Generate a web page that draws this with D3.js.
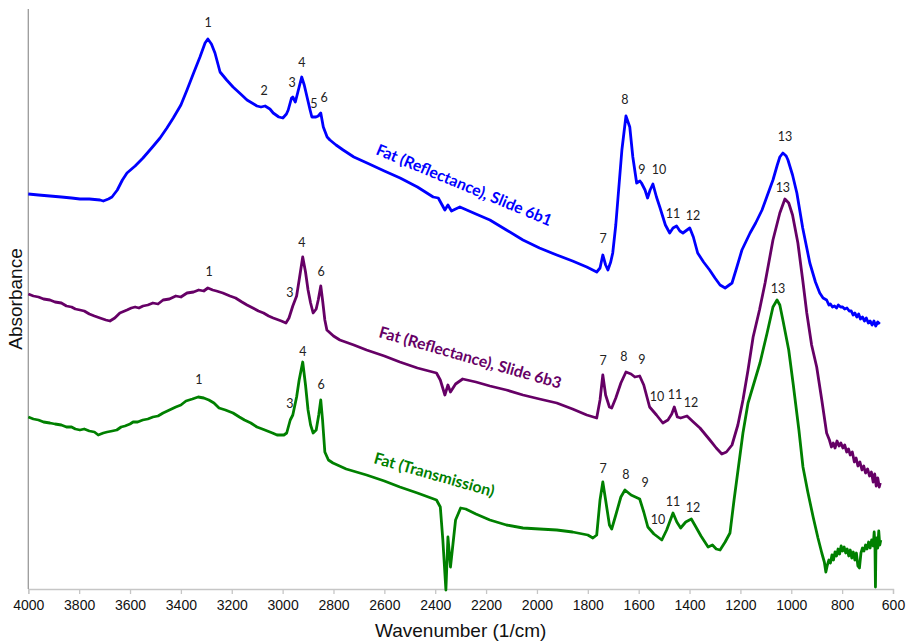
<!DOCTYPE html>
<html>
<head>
<meta charset="utf-8">
<script src="https://cdn.jsdelivr.net/npm/d3@7"></script>
<style>
  body { margin: 0; background: #fff; }
  svg { display: block; }
</style>
</head>
<body>
<div id="chart"></div>
<script>
// Spectra: [wavenumber (1/cm), absorbance (a.u., stacked offsets)]
const slide6b1 = [
  [4000,395],[3960,394],[3915,393],[3870,392],[3830,391],[3797,390],[3760,390],[3718,389],[3705,388],[3685,390],
  [3671,392],[3650,399],[3630,409],[3612,416],[3580,423],[3549,431],[3515,441],[3482,451],[3455,461],[3430,471],
  [3400,484],[3376,499],[3350,516],[3325,532],[3305,546],[3294,550],[3280,545],[3266,536],[3246,517],[3220,509],
  [3195,502],[3165,495],[3140,489],[3101,483],[3085,482],[3069,483],[3050,480],[3037,476],[3015,472],[2999,471],
  [2985,475],[2978,479],[2965,491],[2960,492],[2950,487],[2940,497],[2925,512],[2915,504],[2904,492],[2892,479],
  [2885,472],[2869,472],[2860,473],[2850,476],[2840,462],[2825,452],[2814,449],[2790,444],[2762,439],[2720,432],
  [2668,426],[2600,418],[2538,411],[2470,402],[2408,392],[2388,391],[2375,385],[2362,379],[2350,384],[2336,378],
  [2320,380],[2303,382],[2285,380],[2240,375],[2185,369],[2120,359],[2055,349],[1990,341],[1922,334],[1860,328],
  [1804,322],[1765,317],[1752,321],[1741,334],[1730,324],[1721,319],[1710,327],[1702,336],[1690,364],[1682,389],
  [1666,439],[1650,473],[1635,462],[1623,432],[1608,406],[1595,408],[1589,406],[1575,399],[1565,391],[1555,399],
  [1544,405],[1530,392],[1517,382],[1495,364],[1478,356],[1465,361],[1451,363],[1438,358],[1426,356],[1410,359],
  [1399,361],[1385,352],[1368,336],[1345,327],[1321,319],[1300,311],[1280,304],[1260,301],[1233,306],[1215,321],
  [1194,339],[1162,356],[1140,366],[1115,379],[1095,393],[1072,409],[1055,424],[1045,432],[1033,436],[1020,433],
  [1013,429],[995,414],[978,396],[955,361],[927,326],[905,307],[888,296],[875,291],[861,289],[852,284],
  [846,285],[838,282],[830,283],[822,281],[815,284],[806,282],[798,282],[790,280],[781,281],[772,278],
  [764,278],[757,274],[750,276],[742,272],[735,275],[728,270],[720,272],[712,268],[705,271],[697,266],
  [690,268],[682,264],[675,268],[668,263],[660,267],[652,265]
];

const slide6b3 = [
  [4000,295],[3980,293],[3960,292],[3940,290],[3915,289],[3895,287],[3870,286],[3850,283],[3830,282],[3815,280],
  [3797,279],[3780,278],[3760,275],[3740,273],[3718,271],[3695,269],[3679,268],[3660,271],[3640,276],[3612,279],
  [3595,281],[3580,282],[3565,281],[3549,283],[3530,284],[3510,286],[3490,285],[3470,289],[3445,290],[3420,293],
  [3400,292],[3376,296],[3350,297],[3330,299],[3310,298],[3294,301],[3275,299],[3260,298],[3235,296],[3207,293],
  [3185,291],[3160,287],[3140,284],[3117,281],[3095,278],[3075,276],[3055,273],[3037,271],[3005,268],[2987,266],
  [2975,271],[2960,283],[2945,293],[2935,309],[2921,332],[2910,317],[2900,299],[2890,286],[2880,276],[2868,280],
  [2860,289],[2850,303],[2843,289],[2834,269],[2826,259],[2800,253],[2775,249],[2720,244],[2670,239],[2600,233],
  [2539,227],[2470,221],[2395,216],[2380,209],[2362,194],[2350,204],[2340,197],[2320,205],[2292,210],[2240,207],
  [2185,203],[2120,199],[2055,194],[1990,190],[1922,186],[1860,180],[1804,174],[1765,171],[1752,189],[1741,214],
  [1730,194],[1715,182],[1706,181],[1690,191],[1670,206],[1650,217],[1630,215],[1615,212],[1596,213],[1580,204],
  [1557,182],[1530,174],[1505,166],[1485,169],[1470,175],[1460,182],[1448,172],[1435,171],[1410,173],[1385,167],
  [1359,161],[1320,149],[1295,141],[1273,135],[1255,137],[1233,144],[1210,164],[1190,189],[1170,219],[1150,252],
  [1125,279],[1103,306],[1072,349],[1045,376],[1025,390],[1010,386],[995,374],[974,346],[955,309],[939,276],
  [920,244],[900,222],[880,189],[861,156],[850,149],[842,142],[835,146],[828,141],[820,148],[812,143],
  [805,146],[797,141],[790,144],[782,137],[775,140],[768,134],[760,137],[752,127],[745,131],[738,123],
  [730,127],[722,119],[715,123],[708,116],[700,120],[692,113],[685,117],[678,107],[672,115],[666,103],
  [660,111],[654,102],[650,106]
];

const transmission = [
  [4000,172],[3980,170],[3960,169],[3940,167],[3915,166],[3895,165],[3870,164],[3850,162],[3830,162],[3815,160],
  [3797,159],[3780,160],[3760,158],[3740,157],[3725,154],[3705,156],[3690,157],[3670,158],[3652,159],[3635,162],
  [3620,163],[3600,165],[3588,167],[3570,167],[3550,169],[3530,170],[3510,172],[3490,173],[3470,176],[3445,179],
  [3420,182],[3400,184],[3380,188],[3355,190],[3332,192],[3310,191],[3290,189],[3270,186],[3250,181],[3225,179],
  [3195,176],[3170,172],[3150,169],[3125,166],[3101,162],[3080,160],[3060,158],[3040,156],[3022,154],[2995,154],
  [2984,156],[2970,169],[2960,174],[2945,192],[2935,209],[2921,227],[2910,204],[2900,179],[2890,164],[2880,156],
  [2868,159],[2858,174],[2850,189],[2843,169],[2834,137],[2820,129],[2802,126],[2750,120],[2670,114],[2600,108],
  [2539,102],[2470,96],[2395,89],[2380,82],[2370,49],[2358,-1],[2350,52],[2340,22],[2320,69],[2300,81],
  [2280,80],[2240,75],[2185,69],[2120,64],[2055,61],[1990,60],[1922,59],[1860,57],[1800,54],[1780,51],
  [1765,54],[1752,89],[1741,107],[1730,89],[1715,64],[1706,60],[1690,74],[1670,92],[1654,99],[1630,94],
  [1596,90],[1580,77],[1564,62],[1540,55],[1509,49],[1490,59],[1465,76],[1450,67],[1435,61],[1415,67],
  [1393,70],[1375,62],[1355,53],[1327,42],[1310,44],[1295,40],[1280,39],[1260,47],[1241,56],[1225,89],
  [1190,156],[1170,186],[1123,226],[1095,256],[1072,282],[1056,289],[1045,284],[1033,269],[1010,239],[993,206],
  [970,159],[954,122],[935,97],[914,72],[895,51],[880,36],[870,27],[864,17],[858,24],[852,29],
  [846,26],[840,34],[834,29],[828,37],[822,33],[816,40],[810,35],[804,43],[798,38],[792,42],
  [786,36],[780,40],[774,33],[768,39],[762,31],[756,37],[750,29],[744,36],[738,23],[732,21],
  [726,36],[720,41],[714,38],[708,44],[702,40],[696,47],[690,41],[684,49],[678,43],[674,57],
  [671,44],[669,2],[667,44],[664,51],[660,41],[656,58],[652,44],[648,49]
];

// Peak numbers: [label, wavenumber, absorbance]
const peaks6b1 = [
  ["1",3293,566],["2",3073,498],["3",2963,506],["4",2924,526],["5",2877,485],["6",2837,491],
  ["7",1740,350],["8",1654,489],["9",1587,419],["10",1520,419],["11",1465,375],["12",1386,373],["13",1025,452]
];
const peaks6b3 = [
  ["1",3289,317],["3",2971,296],["4",2924,346],["6",2849,317],["7",1740,228],["8",1658,232],
  ["9",1587,229],["10",1528,192],["11",1457,194],["12",1394,186],["13",1033,401]
];
const peaksTrans = [
  ["1",3329,209],["3",2971,185],["4",2920,237],["6",2849,204],["7",1740,120],["8",1650,114],
  ["9",1575,106],["10",1524,69],["11",1465,87],["12",1386,81],["13",1052,300]
];

const xTicks = d3.range(4000, 599, -200);

const width = 911, height = 643;
const margin = { top: 9, right: 18, bottom: 54, left: 28.3 };

const svg = d3.select("#chart").append("svg")
  .attr("width", width)
  .attr("height", height);

const x = d3.scaleLinear()
  .domain([4000, 600])
  .range([margin.left, width - margin.right]);

const y = d3.scaleLinear()
  .domain([0, 580])
  .range([height - margin.bottom, margin.top]);

// axes
const xAxis = svg.append("g")
  .attr("transform", `translate(0,${height - margin.bottom})`)
  .call(d3.axisBottom(x).tickValues(xTicks).tickSize(5).tickPadding(6).tickFormat(d3.format("d")));
xAxis.selectAll("line, path").attr("stroke", "#c6c6c6").attr("stroke-width", 1.3);
xAxis.selectAll("text")
  .attr("fill", "#111")
  .style("font-family", "'Liberation Sans', Arial, sans-serif")
  .style("font-size", "14px");

svg.append("line")
  .attr("x1", margin.left).attr("x2", margin.left)
  .attr("y1", margin.top).attr("y2", height - margin.bottom)
  .attr("stroke", "#9a9a9a")
  .attr("stroke-width", 1.3);

svg.append("text")
  .attr("x", (margin.left + width - margin.right) / 2)
  .attr("y", 637)
  .attr("text-anchor", "middle")
  .style("font-family", "'Liberation Sans', Arial, sans-serif")
  .style("font-size", "19px")
  .attr("fill", "#111")
  .text("Wavenumber (1/cm)");

svg.append("text")
  .attr("transform", "rotate(-90)")
  .attr("x", -299)
  .attr("y", 22)
  .attr("text-anchor", "middle")
  .style("font-family", "'Liberation Sans', Arial, sans-serif")
  .style("font-size", "19px")
  .attr("fill", "#111")
  .text("Absorbance");

// spectra
const line = d3.line()
  .x(d => x(d[0]))
  .y(d => y(d[1]));

const series = [
  { data: transmission, peaks: peaksTrans, color: "#008000", name: "Fat (Transmission)", at: [2645, 126], angle: 15.8 },
  { data: slide6b3, peaks: peaks6b3, color: "#660066", name: "Fat (Reflectance), Slide 6b3", at: [2625, 252], angle: 15.9 },
  { data: slide6b1, peaks: peaks6b1, color: "#0000ff", name: "Fat (Reflectance), Slide 6b1", at: [2637, 435], angle: 22.5 }
];

series.forEach(s => {
  svg.append("path")
    .datum(s.data)
    .attr("d", line)
    .attr("fill", "none")
    .attr("stroke", s.color)
    .attr("stroke-width", 2.8)
    .attr("stroke-linejoin", "round");

  svg.append("g").selectAll("text")
    .data(s.peaks)
    .enter()
    .append("text")
    .attr("x", d => x(d[1]))
    .attr("y", d => y(d[2]))
    .attr("dy", "0.35em")
    .attr("text-anchor", "middle")
    .style("font-family", "Lato, 'Open Sans', sans-serif")
    .style("font-size", "12.5px")
    .attr("fill", "#222")
    .text(d => d[0]);

  svg.append("text")
    .attr("transform", `translate(${x(s.at[0])},${y(s.at[1])}) rotate(${s.angle})`)
    .style("font-family", "Lato, 'Open Sans', sans-serif")
    .style("font-size", "15.8px")
    .style("font-weight", "bold")
    .attr("fill", s.color)
    .text(s.name);
});
</script>
</body>
</html>
